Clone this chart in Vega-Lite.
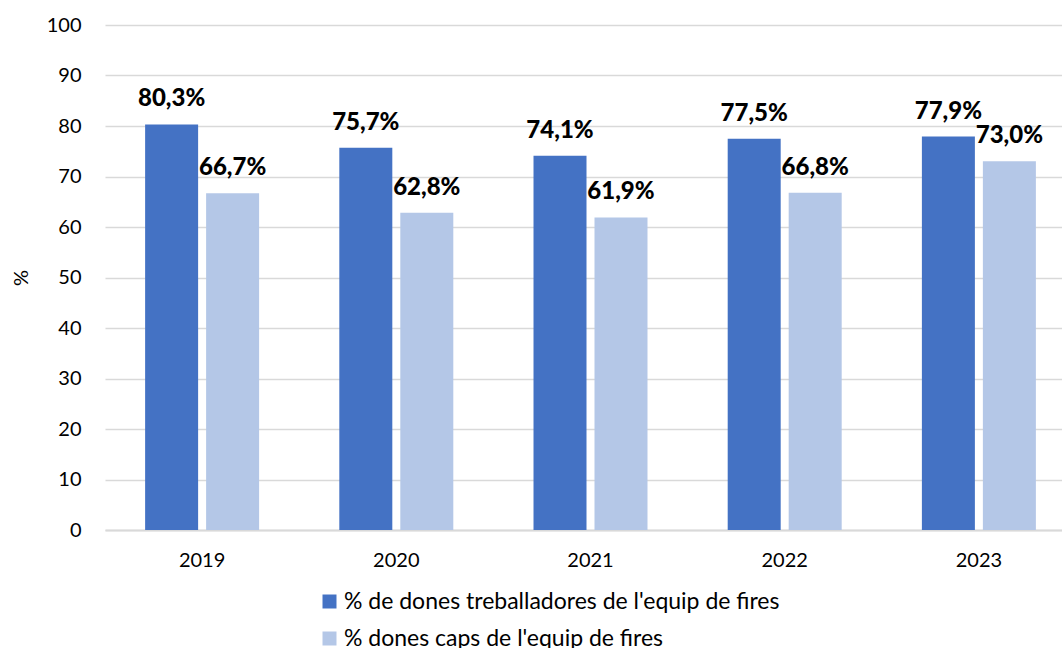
{
  "$schema": "https://vega.github.io/schema/vega-lite/v6.json",
  "width": 971,
  "height": 505,
  "padding": {"left": 11, "top": 15, "right": 0, "bottom": 0},
  "background": "white",
  "config": {
    "font": "Lato",
    "view": {"stroke": null}
  },
  "data": {
    "values": [
      {"year": "2019", "series": "% de dones treballadores de l'equip de fires", "value": 80.3, "label": "80,3%"},
      {"year": "2019", "series": "% dones caps de l'equip de fires", "value": 66.7, "label": "66,7%"},
      {"year": "2020", "series": "% de dones treballadores de l'equip de fires", "value": 75.7, "label": "75,7%"},
      {"year": "2020", "series": "% dones caps de l'equip de fires", "value": 62.8, "label": "62,8%"},
      {"year": "2021", "series": "% de dones treballadores de l'equip de fires", "value": 74.1, "label": "74,1%"},
      {"year": "2021", "series": "% dones caps de l'equip de fires", "value": 61.9, "label": "61,9%"},
      {"year": "2022", "series": "% de dones treballadores de l'equip de fires", "value": 77.5, "label": "77,5%"},
      {"year": "2022", "series": "% dones caps de l'equip de fires", "value": 66.8, "label": "66,8%"},
      {"year": "2023", "series": "% de dones treballadores de l'equip de fires", "value": 77.9, "label": "77,9%"},
      {"year": "2023", "series": "% dones caps de l'equip de fires", "value": 73.0, "label": "73,0%"}
    ]
  },
  "encoding": {
    "x": {
      "field": "year", "type": "nominal",
      "scale": {"paddingInner": 0.413, "paddingOuter": 0.2066},
      "axis": {"title": null, "labelAngle": 0, "labelFontSize": 20, "labelColor": "#000000", "labelPadding": 20, "ticks": false, "domainColor": "#d9d9d9", "domainWidth": 2}
    },
    "xOffset": {
      "field": "series", "type": "nominal",
      "sort": ["% de dones treballadores de l'equip de fires", "% dones caps de l'equip de fires"],
      "scale": {"paddingInner": 0.131, "paddingOuter": 0}
    },
    "y": {
      "field": "value", "type": "quantitative",
      "scale": {"domain": [0, 100], "nice": false},
      "axis": {"title": "%", "titleFontSize": 20, "titleFontWeight": "normal", "titleColor": "#000000", "titlePadding": 15, "values": [0,10,20,30,40,50,60,70,80,90,100], "labelFontSize": 20, "labelColor": "#000000", "labelPadding": 24, "ticks": false, "domain": false, "gridColor": "#d9d9d9", "gridWidth": 1.5}
    }
  },
  "layer": [
    {
      "mark": {"type": "bar"},
      "encoding": {
        "color": {
          "field": "series", "type": "nominal",
          "sort": ["% de dones treballadores de l'equip de fires", "% dones caps de l'equip de fires"],
          "scale": {"range": ["#4472C4", "#B4C7E7"]},
          "legend": {"title": null, "orient": "none", "legendX": 213, "legendY": 565, "direction": "vertical", "symbolType": "square", "symbolSize": 196, "symbolStrokeWidth": 0, "labelFontSize": 23, "labelColor": "#000000", "labelOffset": 3, "rowPadding": 13, "labelLimit": 700}
        }
      }
    },
    {
      "mark": {"type": "text", "baseline": "alphabetic", "dy": -18, "fontWeight": 900, "fontSize": 24, "color": "#000000"},
      "encoding": {"text": {"field": "label"}}
    }
  ]
}
